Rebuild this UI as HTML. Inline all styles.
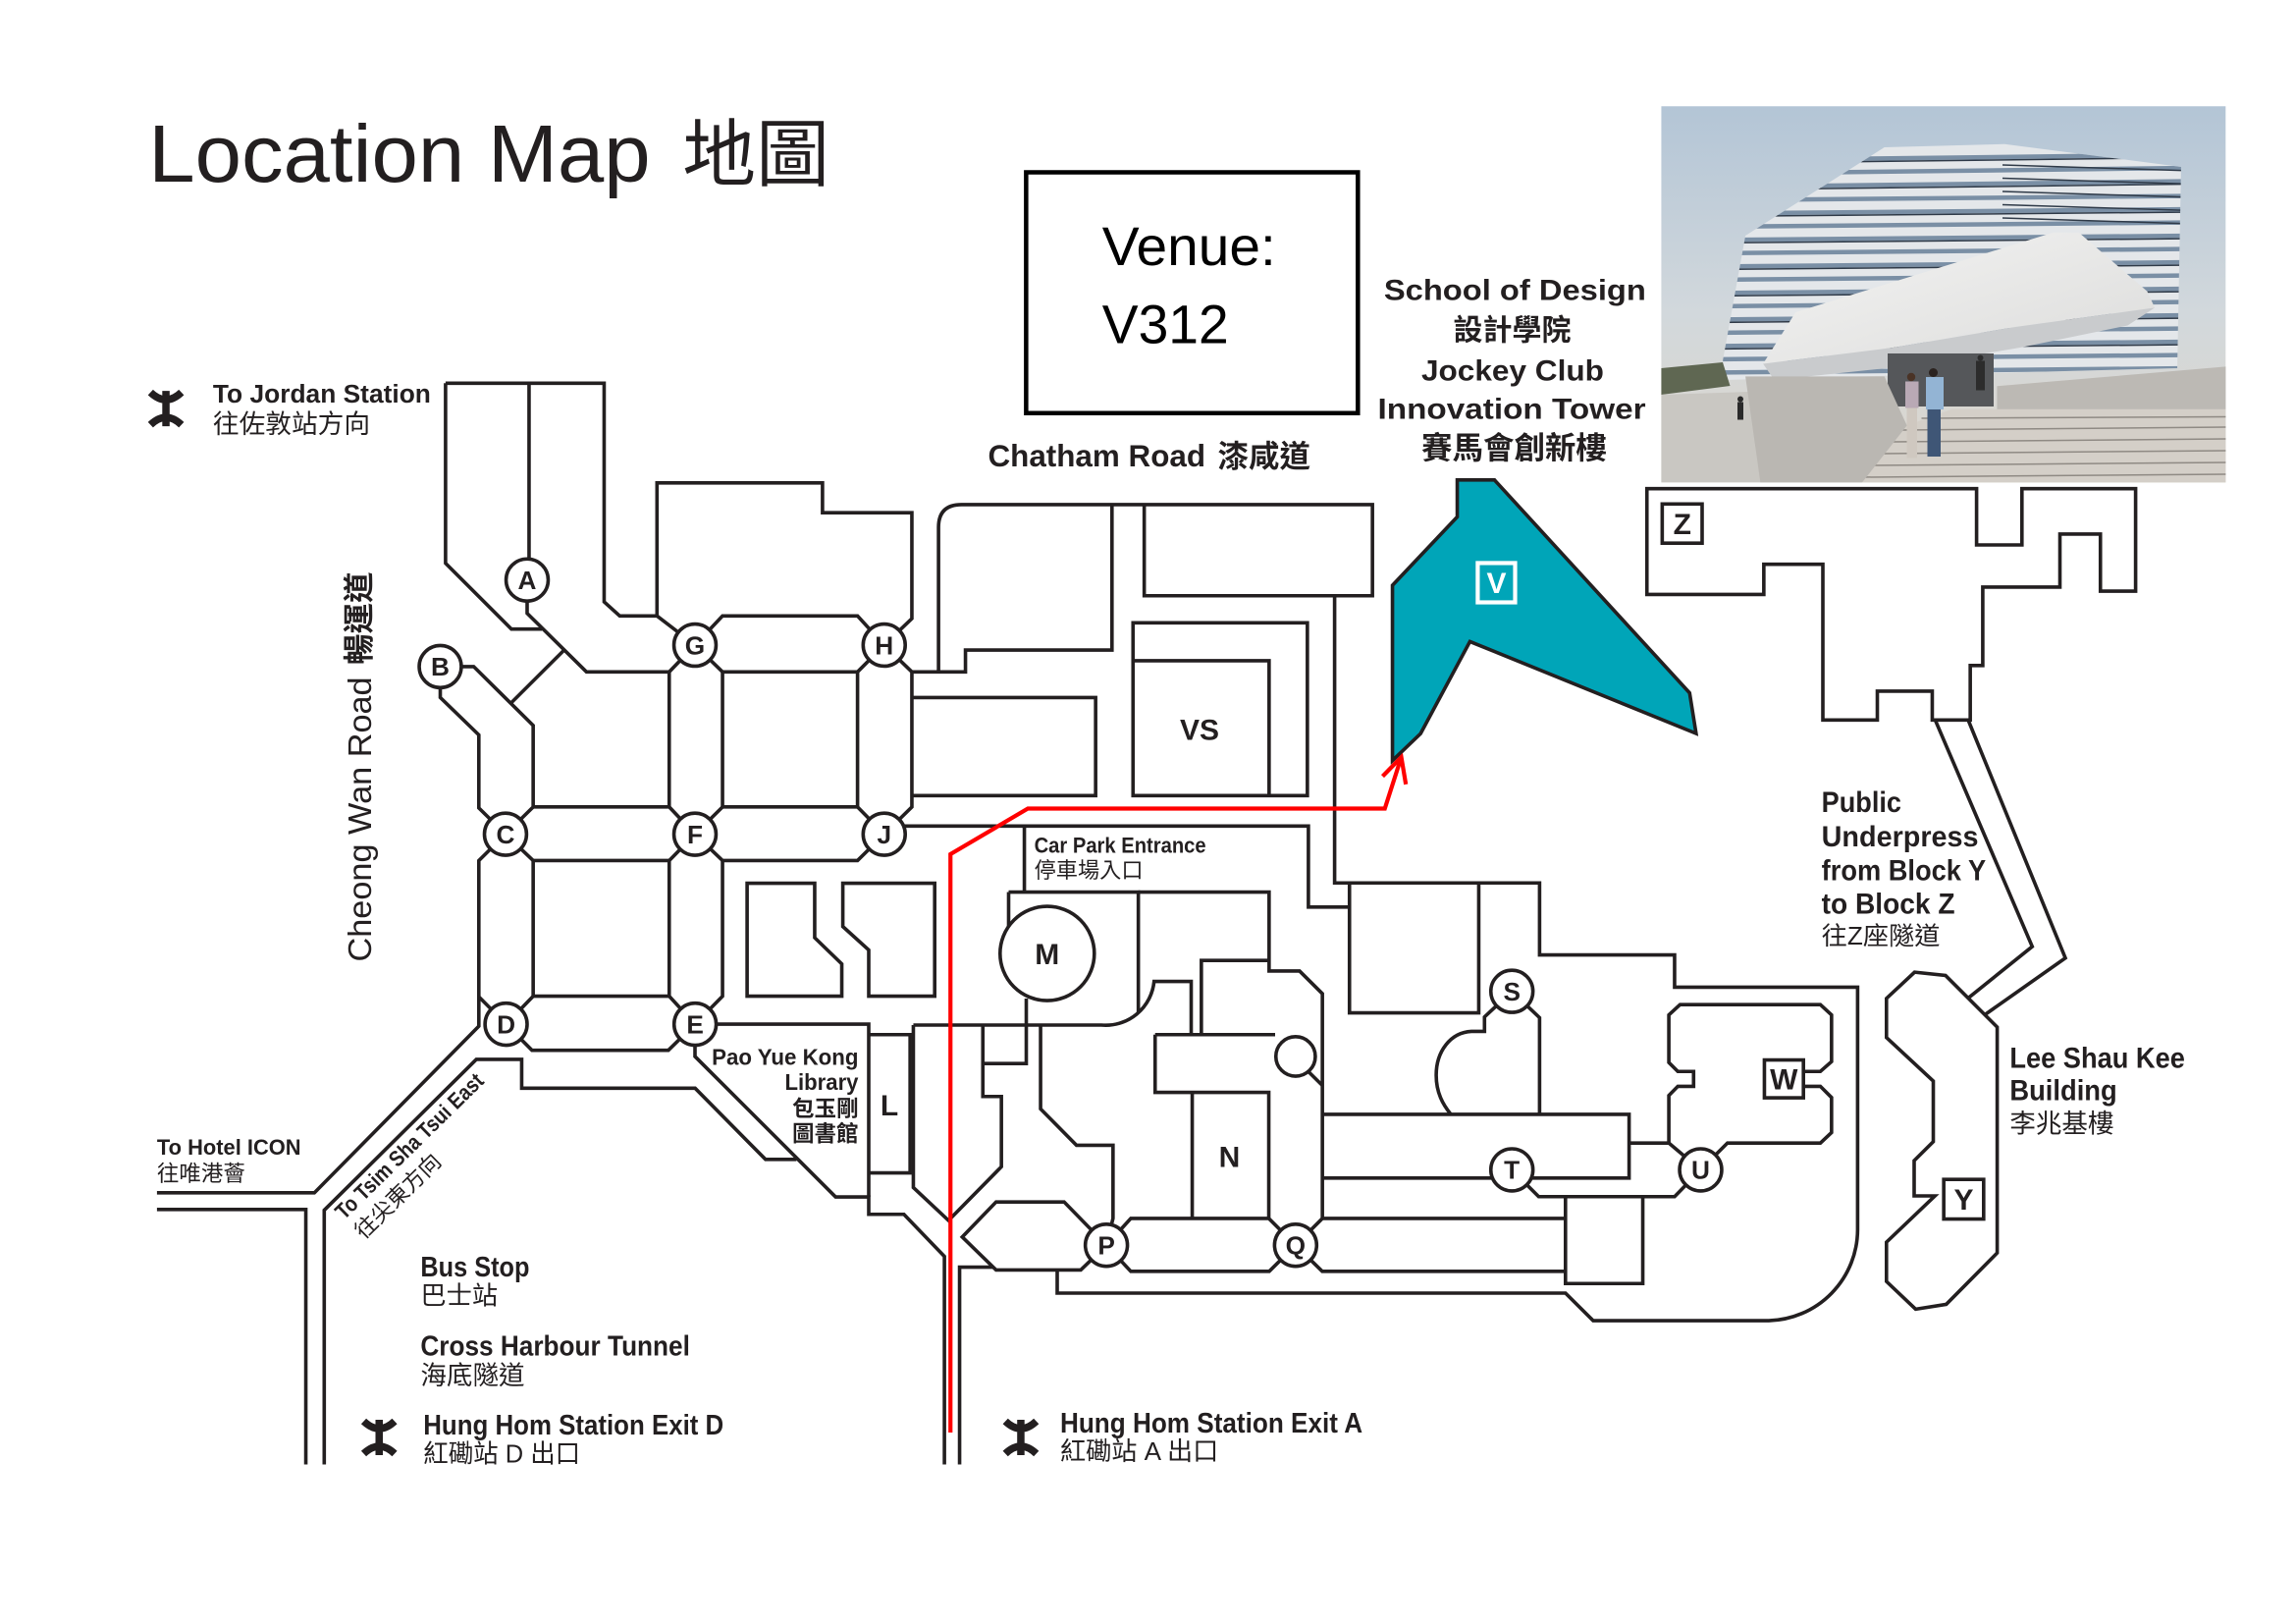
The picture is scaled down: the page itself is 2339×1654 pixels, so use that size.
<!DOCTYPE html>
<html><head><meta charset="utf-8">
<style>
html,body{margin:0;padding:0;background:#fff;}
svg{display:block;}
.lb{font-family:"Liberation Sans","Noto Sans CJK TC",sans-serif;font-weight:bold;fill:#231f20;}
.cj{font-family:"Liberation Sans","Noto Sans CJK TC",sans-serif;fill:#231f20;}
.cjb{font-family:"Liberation Sans","Noto Sans CJK TC",sans-serif;font-weight:bold;fill:#231f20;}
.nd{font-family:"Liberation Sans",sans-serif;font-weight:bold;fill:#231f20;font-size:17.5px;text-anchor:middle;}
</style></head>
<body>
<svg width="2339" height="1654" viewBox="0 0 1559.33 1102.67" xmlns="http://www.w3.org/2000/svg">
<defs>
<clipPath id="ph"><rect x="1128.2" y="72.1" width="383.4" height="255.5"/></clipPath>
<clipPath id="bld"><polygon points="1279.8,100 1361.4,97.8 1481.3,113.3 1478.7,250 1170.1,258 1170.1,244.5 1185.4,160"/></clipPath>
<linearGradient id="sky" x1="0" y1="0" x2="0" y2="1">
<stop offset="0" stop-color="#b3c5d6"/><stop offset="0.55" stop-color="#d2d8dc"/><stop offset="1" stop-color="#ddd6cb"/></linearGradient>
<linearGradient id="wedge" x1="0" y1="0" x2="1" y2="1">
<stop offset="0" stop-color="#f4f4f3"/><stop offset="1" stop-color="#dcdcdb"/></linearGradient>
</defs>
<rect width="1559.33" height="1102.67" fill="#fff"/>

<!-- Title -->
<text x="100.8" y="123.2" font-family="Liberation Sans" font-size="55" textLength="341" lengthAdjust="spacingAndGlyphs" fill="#231f20">Location Map</text>
<text x="463.4" y="122.5" class="cj" font-size="50">地圖</text>

<!-- Venue box -->
<rect x="696.9" y="117" width="225.3" height="163.5" fill="none" stroke="#000" stroke-width="3"/>
<text x="748.5" y="180" font-family="Liberation Sans" font-size="37" fill="#000" textLength="118" lengthAdjust="spacingAndGlyphs">Venue:</text>
<text x="748.5" y="232.9" font-family="Liberation Sans" font-size="37" fill="#000" textLength="86" lengthAdjust="spacingAndGlyphs">V312</text>

<!-- School of design label -->
<g text-anchor="middle">
<text x="1028.9" y="203.8" class="lb" font-size="20" textLength="178" lengthAdjust="spacingAndGlyphs">School of Design</text>
<text x="1027" y="231" class="cjb" font-size="20">設計學院</text>
<text x="1027.3" y="258.2" class="lb" font-size="20" textLength="124" lengthAdjust="spacingAndGlyphs">Jockey Club</text>
<text x="1026.7" y="284.4" class="lb" font-size="20" textLength="182" lengthAdjust="spacingAndGlyphs">Innovation Tower</text>
<text x="1028.3" y="311.5" class="cjb" font-size="21">賽馬會創新樓</text>
</g>

<!-- Chatham road -->
<text x="671" y="316.7" class="lb" font-size="21" textLength="147.7" lengthAdjust="spacingAndGlyphs">Chatham Road</text>
<text x="827" y="317" class="cjb" font-size="21">漆咸道</text>

<!-- Photo -->
<g clip-path="url(#ph)">
<rect x="1128.2" y="72.1" width="383.4" height="255.5" fill="url(#sky)"/>
<polygon points="1279.8,100 1361.4,97.8 1481.3,113.3 1478.7,250 1170.1,258 1170.1,244.5 1185.4,160" fill="#e4e7ea"/>
<g clip-path="url(#bld)" fill="none">
<g stroke="#7a8fa5" stroke-width="3">
<path d="M1160,109 L1490,105"/><path d="M1160,118 L1490,114"/><path d="M1160,127 L1490,123"/>
<path d="M1160,136 L1490,133"/><path d="M1160,145 L1490,142"/><path d="M1160,154 L1490,151"/>
<path d="M1160,163 L1490,160"/><path d="M1160,172 L1490,169"/><path d="M1160,181 L1490,178"/>
<path d="M1160,190 L1490,187"/><path d="M1160,199 L1490,196"/><path d="M1160,208 L1490,205"/>
<path d="M1160,217 L1490,214"/><path d="M1160,226 L1490,223"/><path d="M1160,235 L1490,232"/>
<path d="M1160,244 L1490,241"/><path d="M1160,253 L1490,250"/>
</g>
<g stroke="#2f3a48" stroke-width="1">
<path d="M1160,111 L1490,107"/><path d="M1160,129 L1490,125"/><path d="M1160,147 L1490,144"/>
<path d="M1160,165 L1490,162"/><path d="M1160,183 L1490,180"/><path d="M1160,201 L1490,198"/>
<path d="M1160,219 L1490,216"/><path d="M1160,237 L1490,234"/>
<path d="M1360,112 L1490,116"/><path d="M1360,121 L1490,125"/><path d="M1360,130 L1490,134"/>
<path d="M1360,139 L1490,143"/><path d="M1360,148 L1490,152"/>
</g>
</g>
<!-- wedge -->
<polygon points="1219.5,212 1394.6,157.8 1412,158 1458.3,197.8 1463.4,208.9 1368.7,222 1285.8,236 1197.4,247" fill="url(#wedge)"/>
<polygon points="1197.4,247 1285.8,236 1368.7,222 1463.4,208.9 1445,221 1372,236 1300,248 1205,258" fill="#c9cbcd"/>
<rect x="1282" y="240" width="72" height="36" fill="#55575a"/>
<polygon points="1356.3,262.2 1511.9,248.9 1511.9,278 1356.3,278" fill="#bcb9b4"/>
<!-- trees/left -->
<polygon points="1128.2,250 1170,246 1175,262 1128.2,268" fill="#5f6752"/>
<polygon points="1128.2,268 1188,266 1196,327.6 1128.2,327.6" fill="#c9c7c2"/>
<!-- steps -->
<polygon points="1264.5,327.8 1295.1,288.9 1325.7,277.8 1511.9,277.8 1511.9,327.8" fill="#d4cfc8"/>
<g stroke="#8f8a84" stroke-width="1">
<path d="M1292,292 L1511.9,290"/><path d="M1285,300 L1511.9,298"/><path d="M1278,308 L1511.9,306"/>
<path d="M1271,316 L1511.9,314"/><path d="M1265,324 L1511.9,322"/><path d="M1305,284 L1511.9,283"/>
</g>
<!-- concrete wall -->
<polygon points="1185.4,255.6 1279.8,255.6 1295.1,288.9 1264.5,327.8 1195.6,327.8" fill="#bab7b2"/>
<!-- people -->
<circle cx="1182" cy="271" r="2" fill="#2a2a2a"/><rect x="1180" y="273" width="4" height="12" fill="#2a2a2a"/>
<circle cx="1298" cy="256" r="2.8" fill="#4a3326"/><rect x="1294" y="259" width="9" height="18" fill="#b9a9b5"/><rect x="1295" y="277" width="7" height="34" fill="#cfc8c0"/>
<circle cx="1313" cy="253" r="3" fill="#2b2320"/><rect x="1308" y="256" width="12" height="22" fill="#93b4d4"/><rect x="1309" y="278" width="9" height="32" fill="#3f5676"/>
<rect x="1342" y="245" width="6" height="20" fill="#2c2c2c"/><circle cx="1345" cy="243" r="2" fill="#2c2c2c"/>
</g>

<!-- Teal V building -->
<path d="M989.7,325.9 H1015 L1147.5,470.5 L1151.9,498 L998.3,435.6 L964.8,498.1 L945.7,516.4 V397.4 L989.7,350.9 Z" fill="#00a5b8" stroke="#231f20" stroke-width="2.4" stroke-linejoin="miter"/>
<rect x="1003.6" y="382.3" width="25.4" height="26.7" fill="none" stroke="#fff" stroke-width="2.8"/>
<text x="1016.3" y="402.8" font-family="Liberation Sans" font-weight="bold" font-size="20" fill="#fff" text-anchor="middle">V</text>

<!-- Map lines -->
<g fill="none" stroke="#231f20" stroke-width="2.4" stroke-linejoin="miter" stroke-linecap="butt">
<path d="M302.6,260.2 H410.3 V408.6 L420.9,418.2 H446.2 L472,438"/>
<path d="M359.3,260.2 V393.8"/>
<path d="M302.6,260.2 V382.4 L347.3,427.1 H368.1"/>
<path d="M358,393.8 V416.4 L398.3,456.2 H454.5 L472,438"/>
<path d="M383.1,441.4 L347.3,477.1"/>
<path d="M299,452.6 H321.7 L362.1,492.6 V547.9 L343.3,566.4"/>
<path d="M362.1,547.9 H454.5 L472,566.4"/>
<path d="M299,452.6 V473.6 L325.2,499 V548.6 L343.3,566.4"/>
<path d="M454.5,456.2 V547.9"/>
<path d="M472,438 L490.7,418.2 H582.4 L600.5,438"/>
<path d="M446.2,418.2 V327.9 H558.6 V348.1 H619.3 V420 L600.5,438"/>
<path d="M490.7,456.2 H582.4 V547.9 H490.7 Z"/>
<path d="M472,438 L490.7,456.2 M600.5,438 L582.4,456.2 M472,566.4 L490.7,547.9 M600.5,566.4 L582.4,547.9"/>
<path d="M600.5,438 L619.3,456.2 V547.9 L600.5,566.4"/>
<path d="M619.3,456.2 H655.7 V441.4 H755.2 V342.6"/>
<path d="M637.4,456.2 V358 Q637.4,342.6 653,342.6 H932.1 V404.5 H777.1 V342.6"/>
<path d="M619.3,473.6 H744.1 V540.2 H619.3"/>
<path d="M343.3,566.4 L325.2,584.3 V696.8 L213.5,809.9 H106.6"/>
<path d="M362.1,584.3 H454.5 V676.4 H362.1 Z"/>
<path d="M343.3,566.4 L362.1,584.3 M472,566.4 L454.5,584.3"/>
<path d="M472,566.4 L490.7,584.3 H582.4 L600.5,566.4"/>
<path d="M490.7,584.3 V676.4 L472,695.4"/>
<path d="M343.7,695.4 L362.1,676.4 M472,695.4 L454.5,676.4 M343.7,695.4 L325.4,677"/>
<path d="M343.7,695.4 L361.3,713.1 H453.9 L472,695.4"/>
<path d="M472,695.4 V717.3 L567.5,812.7 H590 V824.5 H613.9 L641.4,853.1 V994.3"/>
<path d="M472,695.4 H590 V812.7"/>
<path d="M590,702.5 H618.1 V796.4 H590"/>
<path d="M106.6,821.2 H207.7 V994.3"/>
<path d="M220.2,994.3 V821.7 L323.5,719.3 H354.3 V738.9 H472.1 L519.9,787.2 H540.9"/>
<path d="M507.4,599.7 H553.3 V636.7 L571.7,654.5 V676.4 H507.4 Z"/>
<path d="M572.4,599.7 H634.8 V676.4 H590 V645 L572.4,629.1 Z"/>
<path d="M600.5,560.9 H888.6 V615.9 H916.5"/>
<path d="M695.7,560.9 V605.7"/>
<path d="M685,605.7 H773.1 V687.5"/>
<path d="M685,605.7 V632"/>
<path d="M697,678 V722.1 H667.5"/>
<path d="M769.5,422.9 H887.9 V540.2 H769.5 Z"/>
<path d="M769.5,448.6 H861.9 V540.2"/>
<path d="M906.4,404.5 V599.5 H1045.6 V648.4 H1137.3 V670.3 H1261.6 V835 A62,62 0 0 1 1201.3,896.7 H1082 L1063.2,878 H718 V863.2"/>
<path d="M916.5,599.5 V687.7 H1004.3 V599.5"/>
<path d="M773.1,605.7 H861.9 V659.3 H882.6 L898.1,674.7 V827.3"/>
<path d="M815.9,702.5 V652.1 H861.9"/>
<path d="M620.3,696 H748 A33,33 0 0 0 783.8,666.4 H809 V702.5"/>
<path d="M620.3,696 V806.3 L644.2,828.7 L680.1,792.2 V744.5 H667.5 V696"/>
<path d="M706.7,696 V752.9 L731.1,777.6 H755.9 V827.3 L751.4,845.5"/>
<path d="M784.5,702.5 H866 M784.5,702.5 V741.7 H861.7 V827.3"/>
<path d="M809.7,741.7 V827.3"/>
<path d="M889,728 L898.1,737"/>
<path d="M751.4,845.5 L722.7,816.1 H676.5 L653.5,839.9 L676.5,862.3 H734 L751.4,845.5"/>
<path d="M651.7,994.3 V860.4 H674.5"/>
<path d="M751.4,845.5 L768,827.3 H861.7 L879.9,845.5 L898.1,827.3 H1063.2"/>
<path d="M751.4,845.5 L768,863.2 H862 L879.9,845.5 L898,863.2 H1063.2"/>
<path d="M1026.8,673.1 L1008.2,690.5 V700.3 H999.3 C985,701 975.4,714 975.4,730 C975.4,742 980,750 985.2,756.4"/>
<path d="M1026.8,673.1 L1045.6,691 V756.4"/>
<path d="M898.1,756.6 H1106.4 V799.9 H1026.8"/>
<path d="M898.1,799.9 H1026.8"/>
<path d="M1026.8,794.3 L1045,812.5 H1137.3 L1155,794.3"/>
<path d="M1106.4,776.1 H1133.4 V743.8 L1139.5,737.6 H1150.2 V727.5 H1139.5 L1133.4,721.4 V689.1 L1141,682.1 H1236.3 L1243.9,689.1 V720.8 L1236.3,727.5 H1226"/>
<path d="M1226,737.6 H1236.3 L1243.9,745.2 V769 L1236.3,776.1 H1173.2 L1155,794.3"/>
<path d="M1133.4,776.1 L1155,794.3"/>
<path d="M1063.2,812.5 V871.5 H1115.7 V812.5"/>
<path d="M1300.3,660.1 L1321.3,662.3 L1356.4,697.4 V850.7 L1321.8,885.6 L1301,888.9 L1281.2,870.1 V843.4 L1314.1,812 H1300 V788.1 L1313,775.2 V734 L1281.2,704.5 V677.9 Z"/>
<path d="M1314.3,488.9 L1380.2,642.7 L1336.7,677.7"/>
<path d="M1336.7,488.9 L1402.7,650.5 L1348,689"/>
<path d="M1118.5,331.8 H1342.4 V370 H1373.2 V331.8 H1450.4 V401.4 H1426.5 V362.6 H1399 V398.6 H1346.6 V451.9 H1338.1 V488.9 H1312.3 V469.3 H1275 V488.9 H1238 V383.1 H1197.9 V403.6 H1118.5 Z"/>
</g>

<!-- Red route -->
<g fill="none" stroke="#ff0000" stroke-width="2.8" stroke-linejoin="miter">
<path d="M645.5,972.7 V580 L698.1,549 H940.5 L951.7,514.1"/>
<path d="M939,527.1 L951.7,514.1 L954.8,532.6"/>
</g>

<!-- Circles -->
<g fill="#fff" stroke="#231f20" stroke-width="2.4">
<circle cx="358" cy="393.8" r="14.3"/>
<circle cx="299" cy="452.6" r="14.3"/>
<circle cx="343.3" cy="566.4" r="14.3"/>
<circle cx="343.7" cy="695.4" r="14.3"/>
<circle cx="472.1" cy="695.4" r="14.3"/>
<circle cx="472" cy="566.4" r="14.3"/>
<circle cx="472" cy="438" r="14.3"/>
<circle cx="600.5" cy="438" r="14.3"/>
<circle cx="600.5" cy="566.4" r="14.3"/>
<circle cx="751.4" cy="845.5" r="14.3"/>
<circle cx="879.9" cy="845.5" r="14.3"/>
<circle cx="1026.8" cy="673.1" r="14.3"/>
<circle cx="1026.8" cy="794.3" r="14.3"/>
<circle cx="1155" cy="794.3" r="14.3"/>
<circle cx="711.2" cy="647.4" r="32"/>
<circle cx="879.9" cy="717.3" r="13.4"/>
<rect x="1198.3" y="719.7" width="26.5" height="25.7"/>
<rect x="1320.1" y="800.8" width="27.1" height="26.9"/>
<rect x="1128.9" y="342.2" width="27.1" height="26.6"/>
</g>

<!-- node letters -->
<text x="358" y="400" class="nd">A</text>
<text x="299" y="458.8" class="nd">B</text>
<text x="343.3" y="572.6" class="nd">C</text>
<text x="343.7" y="701.6" class="nd">D</text>
<text x="472.1" y="701.6" class="nd">E</text>
<text x="472" y="572.6" class="nd">F</text>
<text x="472" y="444.2" class="nd">G</text>
<text x="600.5" y="444.2" class="nd">H</text>
<text x="600.5" y="572.6" class="nd">J</text>
<text x="751.4" y="851.7" class="nd">P</text>
<text x="879.9" y="851.7" class="nd">Q</text>
<text x="1026.8" y="679.3" class="nd">S</text>
<text x="1026.8" y="800.5" class="nd">T</text>
<text x="1155" y="800.5" class="nd">U</text>
<g class="nd" style="font-size:20px">
<text x="711.2" y="654.6">M</text>
<text x="814.7" y="502.2">VS</text>
<text x="835" y="792.4">N</text>
<text x="604" y="757.2">L</text>
<text x="1211.5" y="739.8">W</text>
<text x="1333.7" y="821.5">Y</text>
<text x="1142.5" y="362.7">Z</text>
</g>

<!-- MTR logos -->
<g fill="none" stroke="#231f20" stroke-width="5">
<path transform="translate(112.7,277.4)" d="M-10.5,-11 Q0,-1 10.5,-11 M-10.5,11 Q0,1 10.5,11 M0,-12 V12"/>
<path transform="translate(257.5,976)" d="M-10.5,-11 Q0,-1 10.5,-11 M-10.5,11 Q0,1 10.5,11 M0,-12 V12"/>
<path transform="translate(693.3,976)" d="M-10.5,-11 Q0,-1 10.5,-11 M-10.5,11 Q0,1 10.5,11 M0,-12 V12"/>
</g>

<!-- Labels -->
<text x="144.6" y="273.4" class="lb" font-size="17" textLength="148" lengthAdjust="spacingAndGlyphs">To Jordan Station</text>
<text x="144.6" y="294" class="cj" font-size="17.8">往佐敦站方向</text>

<text transform="translate(252,653) rotate(-90)" class="lb" font-size="22" textLength="193.4" lengthAdjust="spacingAndGlyphs" style="font-weight:normal">Cheong Wan Road</text>
<text transform="translate(251,451.3) rotate(-90)" class="cjb" font-size="21">暢運道</text>

<text x="106.6" y="784" class="lb" font-size="15" textLength="97.8" lengthAdjust="spacingAndGlyphs">To Hotel ICON</text>
<text x="106.6" y="801.9" class="cj" font-size="15">往唯港薈</text>

<text transform="translate(233.7,828.7) rotate(-44.4)" class="lb" font-size="15" textLength="134" lengthAdjust="spacingAndGlyphs">To Tsim Sha Tsui East</text>
<text transform="translate(247,842) rotate(-44.4)" class="cj" font-size="15">往尖東方向</text>

<g text-anchor="end">
<text x="583" y="723" class="lb" font-size="15.5" textLength="99.6" lengthAdjust="spacingAndGlyphs">Pao Yue Kong</text>
<text x="583" y="740" class="lb" font-size="15.5" textLength="50" lengthAdjust="spacingAndGlyphs">Library</text>
<text x="583" y="758" class="cjb" font-size="15">包玉剛</text>
<text x="583" y="775" class="cjb" font-size="15">圖書館</text>
</g>

<text x="702.4" y="579" class="lb" font-size="14.5" textLength="116.7" lengthAdjust="spacingAndGlyphs">Car Park Entrance</text>
<text x="702.4" y="596" class="cj" font-size="14.8">停車場入口</text>

<text x="285.6" y="866.6" class="lb" font-size="19" textLength="74" lengthAdjust="spacingAndGlyphs">Bus Stop</text>
<text x="285.6" y="885.7" class="cj" font-size="17.5">巴士站</text>
<text x="285.6" y="920.5" class="lb" font-size="19" textLength="183" lengthAdjust="spacingAndGlyphs">Cross Harbour Tunnel</text>
<text x="285.6" y="940" class="cj" font-size="17.7">海底隧道</text>
<text x="287.5" y="974" class="lb" font-size="19" textLength="204" lengthAdjust="spacingAndGlyphs">Hung Hom Station Exit D</text>
<text x="287.5" y="993" class="cj" font-size="17.5" textLength="106.6" lengthAdjust="spacingAndGlyphs">紅磡站 D 出口</text>

<text x="720" y="972.7" class="lb" font-size="19" textLength="205.4" lengthAdjust="spacingAndGlyphs">Hung Hom Station Exit A</text>
<text x="720" y="991.4" class="cj" font-size="17.5" textLength="107.5" lengthAdjust="spacingAndGlyphs">紅磡站 A 出口</text>

<text x="1237.1" y="551.5" class="lb" font-size="19.5" textLength="54.2" lengthAdjust="spacingAndGlyphs">Public</text>
<text x="1237.1" y="574.8" class="lb" font-size="19.5" textLength="106.6" lengthAdjust="spacingAndGlyphs">Underpress</text>
<text x="1237.1" y="597.8" class="lb" font-size="19.5" textLength="111.7" lengthAdjust="spacingAndGlyphs">from Block Y</text>
<text x="1237.1" y="620.2" class="lb" font-size="19.5" textLength="90.6" lengthAdjust="spacingAndGlyphs">to Block Z</text>
<text x="1237.1" y="641.3" class="cj" font-size="17" textLength="80.5" lengthAdjust="spacingAndGlyphs">往Z座隧道</text>

<text x="1364.9" y="724.9" class="lb" font-size="19.5" textLength="119" lengthAdjust="spacingAndGlyphs">Lee Shau Kee</text>
<text x="1364.9" y="747.1" class="lb" font-size="19.5" textLength="72.9" lengthAdjust="spacingAndGlyphs">Building</text>
<text x="1364.9" y="769" class="cj" font-size="17.7">李兆基樓</text>
</svg>
</body></html>
